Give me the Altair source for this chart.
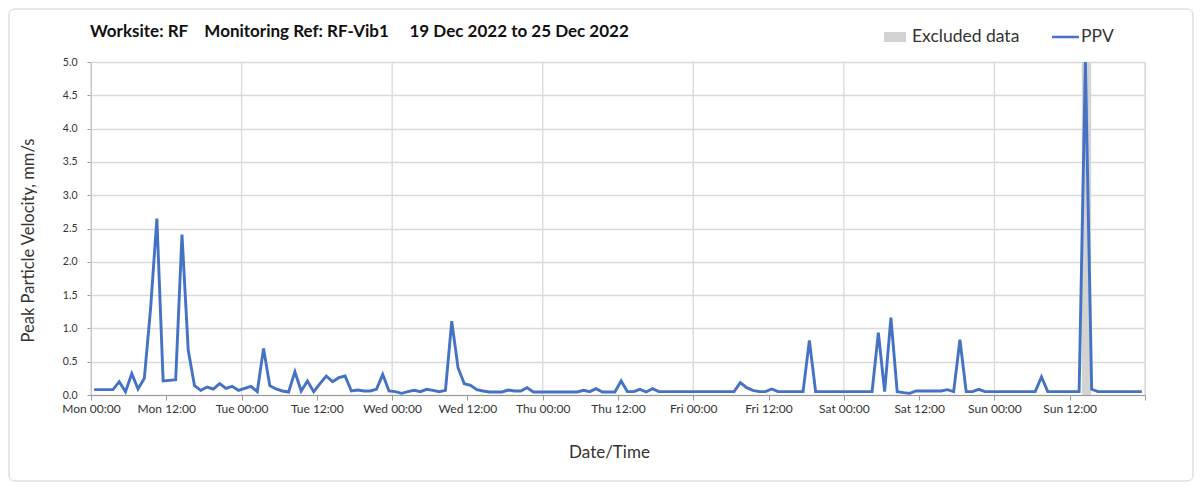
import altair as alt
import pandas as pd

# Hourly PPV readings (mm/s), Mon 19 Dec 2022 00:30 onward
ppv = [
    0.08, 0.08, 0.08, 0.08, 0.20, 0.05, 0.32, 0.09, 0.25, 1.30,
    2.65, 0.21, 0.22, 0.23, 2.41, 0.67, 0.14, 0.07, 0.12, 0.09,
    0.17, 0.10, 0.13, 0.07, 0.10, 0.13, 0.05, 0.70, 0.14, 0.09,
    0.06, 0.045, 0.35, 0.06, 0.21, 0.05, 0.17, 0.285, 0.20, 0.26,
    0.285, 0.06, 0.075, 0.06, 0.06, 0.085, 0.31, 0.06, 0.05, 0.025,
    0.05, 0.07, 0.05, 0.085, 0.07, 0.05, 0.07, 1.11, 0.41, 0.17,
    0.145, 0.08, 0.06, 0.045, 0.045, 0.045, 0.075, 0.06, 0.06, 0.11,
    0.045, 0.045, 0.045, 0.045, 0.045, 0.045, 0.045, 0.045, 0.07, 0.05,
    0.095, 0.045, 0.045, 0.045, 0.21, 0.05, 0.05, 0.085, 0.045, 0.095,
    0.05, 0.05, 0.05, 0.05, 0.05, 0.05, 0.05, 0.05, 0.05, 0.05,
    0.05, 0.05, 0.05, 0.185, 0.11, 0.07, 0.05, 0.05, 0.09, 0.05,
    0.05, 0.05, 0.05, 0.05, 0.82, 0.05, 0.05, 0.05, 0.05, 0.05,
    0.05, 0.05, 0.05, 0.05, 0.05, 0.935, 0.05, 1.16, 0.05, 0.035,
    0.025, 0.06, 0.06, 0.06, 0.06, 0.06, 0.08, 0.05, 0.83, 0.05,
    0.05, 0.085, 0.05, 0.05, 0.05, 0.05, 0.05, 0.05, 0.05, 0.05,
    0.05, 0.27, 0.05, 0.05, 0.05, 0.05, 0.05, 0.05, 5.0, 0.085,
    0.05, 0.05, 0.05, 0.05, 0.05, 0.05, 0.05, 0.05,
]
times = pd.date_range("2022-12-19 00:30", periods=len(ppv), freq="h").strftime("%Y-%m-%dT%H:%M:%S")

excluded_start = ["2022-12-25T13:55:00"]
excluded_end = ["2022-12-25T15:25:00"]

day_lines = pd.date_range("2022-12-19", "2022-12-26", freq="D").strftime("%Y-%m-%dT%H:%M:%S").tolist()
tick_times = pd.date_range("2022-12-19", "2022-12-26", freq="12h")
tick_values = [alt.DateTime(year=t.year, month=t.month, date=t.day, hours=t.hour) for t in tick_times]

title_text = "Worksite: RF\u00a0\u00a0\u00a0 Monitoring Ref: RF-Vib1\u00a0\u00a0\u00a0\u00a0 19 Dec 2022 to 25 Dec 2022"

W, H = 1054, 333
FONT = "Lato"
BLUE = "#4472C4"
GREY = "#d3d3d3"

x_scale = alt.Scale(domain=[alt.DateTime(year=2022, month=12, date=19),
                            alt.DateTime(year=2022, month=12, date=26)])
x_axis = alt.Axis(
    values=tick_values, format="%a %H:%M", grid=False,
    labelExpr="date(datum.value) == 26 ? '' : datum.label",
    labelOverlap=False, labelFlush=False, labelFontSize=12, labelColor="#333",
    labelFont=FONT, labelPadding=3, tickSize=5, tickColor="#999", domainColor="#999",
    title="Date/Time", titleFont=FONT, titleFontSize=17, titleFontWeight="normal",
    titleColor="#333", titleX=518, titleY=49, titleBaseline="top", titleAlign="center",
)
y_axis = alt.Axis(
    values=[0, 0.5, 1, 1.5, 2, 2.5, 3, 3.5, 4, 4.5, 5], format=".1f",
    labelFontSize=10.5, labelColor="#333", labelFont=FONT, labelPadding=10,
    tickSize=4, tickColor="#999", domainColor="#999",
    gridColor="#d9d9d9", gridWidth=1.3,
    title="Peak Particle Velocity, mm/s", titleFont=FONT, titleFontSize=16.5,
    titleFontWeight="normal", titleColor="#333", titleX=-55, titleY=178,
    titleAlign="center", titleBaseline="bottom", titleAngle=-90,
)
y_scale = alt.Scale(domain=[0, 5], nice=False)

df = pd.DataFrame({"time": times, "ppv": ppv})
days_df = pd.DataFrame({"time": day_lines})
excl_df = pd.DataFrame({"time": excluded_start, "end": excluded_end})

grid = alt.Chart(days_df).mark_rule(color="#d9d9d9", strokeWidth=1.3).encode(
    x=alt.X("time:T", scale=x_scale, axis=x_axis)
)
excl = alt.Chart(excl_df).mark_rect(color=GREY).encode(
    x=alt.X("time:T", scale=x_scale, axis=x_axis), x2="end:T",
    y=alt.value(0), y2=alt.value(H)
)
line = alt.Chart(df).mark_line(color=BLUE, strokeWidth=2.9, clip=True).encode(
    x=alt.X("time:T", scale=x_scale, axis=x_axis),
    y=alt.Y("ppv:Q", scale=y_scale, axis=y_axis),
)

title = alt.Chart(pd.DataFrame({"t": [title_text]})).mark_text(
    font=FONT, fontSize=17, fontWeight="bold", align="left", baseline="middle", color="#111"
).encode(x=alt.value(-1), y=alt.value(-30), text="t:N")

legend_df = pd.DataFrame({"t": ["Excluded data", "PPV"], "px": [821, 990]})
leg_text = alt.Chart(legend_df).mark_text(
    font=FONT, fontSize=17.5, align="left", baseline="middle", color="#333"
).encode(x=alt.X("px:Q", scale=None), y=alt.value(-25), text="t:N")
leg_rect = alt.Chart(pd.DataFrame({"a": [0]})).mark_rect(color=GREY).encode(
    x=alt.value(793), x2=alt.value(815), y=alt.value(-30), y2=alt.value(-20)
)
leg_line = alt.Chart(pd.DataFrame({"a": [0]})).mark_rule(color=BLUE, strokeWidth=2.5).encode(
    x=alt.value(961), x2=alt.value(988), y=alt.value(-25)
)
border = alt.Chart(pd.DataFrame({"a": [0]})).mark_rect(
    fill=None, stroke="#cfcfcf", strokeWidth=1, cornerRadius=6
).encode(x=alt.value(-82), x2=alt.value(W + 48), y=alt.value(-53), y2=alt.value(H + 86))

chart = alt.layer(border, grid, excl, line, title, leg_rect, leg_line, leg_text).properties(
    width=W, height=H,
    autosize=alt.AutoSizeParams(type="none"),
    padding={"left": 83, "top": 54, "right": 50, "bottom": 88},
).configure_view(stroke=None).configure(background="white")

chart.save("out.html", embed_options={"renderer": "svg", "actions": False})
